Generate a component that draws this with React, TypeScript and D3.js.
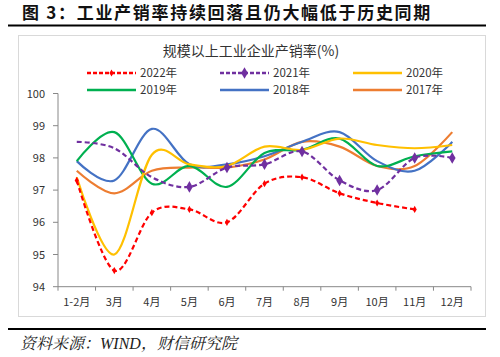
import React from "react";
import * as d3 from "d3";

const months = ["1-2月", "3月", "4月", "5月", "6月", "7月", "8月", "9月", "10月", "11月", "12月"];
const yTicks = [94, 95, 96, 97, 98, 99, 100];

const s2022 = [97.3, 94.5, 96.3, 96.4, 96.0, 97.2, 97.4, 96.9, 96.6, 96.4];
const s2021 = [98.5, 98.3, 97.4, 97.1, 97.7, 97.8, 98.2, 97.3, 97.0, 98.0, 98.0];
const s2020 = [97.4, 95.0, 98.1, 97.8, 97.75, 98.35, 98.25, 98.6, 98.4, 98.3, 98.4];
const s2019 = [97.9, 98.8, 97.2, 97.75, 97.1, 98.15, 98.25, 98.6, 97.75, 98.05, 98.2];
const s2018 = [97.9, 97.3, 98.9, 97.8, 97.8, 98.05, 98.5, 98.8, 97.9, 97.6, 98.5];
const s2017 = [97.6, 96.9, 97.6, 97.7, 97.7, 97.95, 98.5, 98.35, 97.75, 97.75, 98.8];

const seriesNames = ["2022年", "2021年", "2020年", "2019年", "2018年", "2017年"];
const seriesData = [s2022, s2021, s2020, s2019, s2018, s2017];
const seriesColors = ["#FF0000", "#7030A0", "#FFC000", "#00B050", "#4472C4", "#ED7D31"];
const seriesDash = ["5,3", "5,3", null, null, null, null];
const seriesMarker = [5, 8, 0, 0, 0, 0];
const markerFrom = [0, 3, 0, 0, 0, 0];

export default function App() {
  const W = 500, H = 357;
  const x = d3.scaleBand<string>().domain(months).range([58, 471]);
  const y = d3.scaleLinear().domain([94, 100]).range([286.7, 93.5]);
  const line = d3
    .line<number>()
    .x((_, i) => (x(months[i]) as number) + x.bandwidth() / 2)
    .y((d) => y(d))
    .curve(d3.curveCatmullRom.alpha(0));
  const diamond = d3.symbol().type(d3.symbolDiamond);
  const legendPos = [
    [87, 73], [220, 73], [353, 73],
    [87, 90], [220, 90], [353, 90],
  ];
  const font = "'Noto Sans CJK SC', 'Noto Sans', sans-serif";
  const order = [5, 4, 3, 2, 1, 0];
  return (
    <svg width={W} height={H} style={{ position: "absolute", left: 0, top: 0, background: "#fff" }}>
      <text x={22} y={19} fontFamily={font} fontWeight="bold" fontSize={17} letterSpacing={1.7} fill="#111">
        图 3：工业产销率持续回落且仍大幅低于历史同期
      </text>
      <line x1={8} x2={486} y1={25.5} y2={25.5} stroke="#000" strokeWidth={2} />
      <rect x={18.5} y={35.5} width={467} height={281} fill="#fff" stroke="#d9d9d9" strokeWidth={1} />
      <text x={251} y={56} textAnchor="middle" fontFamily={font} fontSize={14} fill="#333">
        规模以上工业企业产销率(%)
      </text>
      {seriesNames.map((n, i) => (
        <g key={n}>
          <line
            x1={legendPos[i][0]}
            x2={legendPos[i][0] + 49}
            y1={legendPos[i][1]}
            y2={legendPos[i][1]}
            stroke={seriesColors[i]}
            strokeWidth={2.5}
            strokeDasharray={seriesDash[i] ? "4,2" : undefined}
          />
          {seriesMarker[i] > 0 && (
            <path
              d={diamond.size(seriesMarker[i] * seriesMarker[i] * 0.6)() as string}
              transform={`translate(${legendPos[i][0] + 24.5},${legendPos[i][1]})`}
              fill={seriesColors[i]}
            />
          )}
          <text x={legendPos[i][0] + 53} y={legendPos[i][1] + 4} fontFamily={font} fontSize={11.5} fill="#333">
            {n}
          </text>
        </g>
      ))}
      {/* y axis */}
      <line x1={58} x2={58} y1={y(100)} y2={y(94)} stroke="#888" />
      {yTicks.map((t) => (
        <g key={t}>
          <line x1={53} x2={58} y1={y(t)} y2={y(t)} stroke="#888" />
          <text x={45} y={y(t) + 4} textAnchor="end" fontFamily={font} fontSize={11} fill="#333">
            {t}
          </text>
        </g>
      ))}
      {/* x axis */}
      <line x1={58} x2={471} y1={y(94)} y2={y(94)} stroke="#888" />
      {months.map((m) => (
        <g key={m}>
          <line x1={x(m) as number} x2={x(m) as number} y1={y(94)} y2={y(94) + 4} stroke="#888" />
          <text
            x={(x(m) as number) + x.bandwidth() / 2}
            y={y(94) + 19}
            textAnchor="middle"
            fontFamily={font}
            fontSize={11}
            fill="#333"
          >
            {m}
          </text>
        </g>
      ))}
      <line x1={471} x2={471} y1={y(94)} y2={y(94) + 4} stroke="#888" />
      {order.map((i) => (
        <g key={seriesNames[i]}>
          <path
            d={line(seriesData[i]) as string}
            fill="none"
            stroke={seriesColors[i]}
            strokeWidth={2.2}
            strokeDasharray={seriesDash[i] ?? undefined}
          />
          {seriesMarker[i] > 0 &&
            seriesData[i].map((v, j) =>
              j < markerFrom[i] ? null : (
                <path
                  key={j}
                  d={diamond.size(seriesMarker[i] * seriesMarker[i] * 0.6)() as string}
                  transform={`translate(${(x(months[j]) as number) + x.bandwidth() / 2},${y(v)})`}
                  fill={seriesColors[i]}
                />
              )
            )}
        </g>
      ))}
      <line x1={8} x2={486} y1={329} y2={329} stroke="#000" strokeWidth={2} />
      <text x={20} y={349} fontFamily="'Liberation Serif', 'Noto Serif CJK SC', 'Noto Sans CJK SC', serif" fontStyle="italic" fontSize={16} fill="#222">
        资料来源：WIND，财信研究院
      </text>
    </svg>
  );
}
